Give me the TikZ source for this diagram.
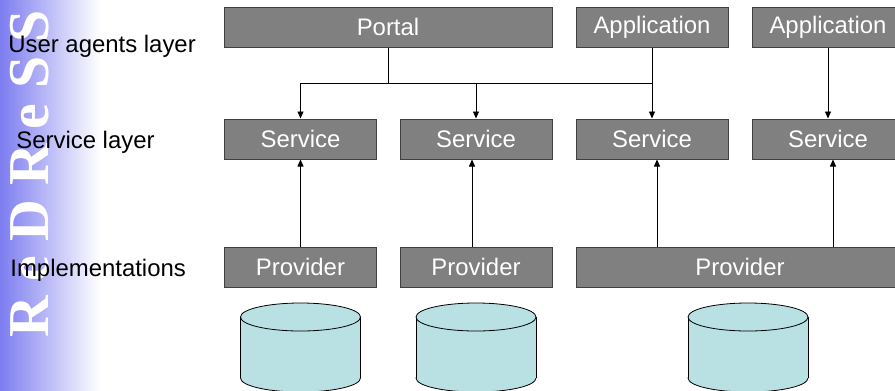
\documentclass[tikz,border=0pt]{standalone}
\usepackage{fontspec}
\setmainfont{Liberation Sans}
\newfontfamily\logofont{Liberation Serif}
\usetikzlibrary{arrows.meta}
\definecolor{logoblue}{RGB}{125,125,240}
\definecolor{boxgray}{RGB}{128,128,128}
\definecolor{storecyan}{RGB}{185,224,227}
% data store drawn as a cylinder, #1 = centre x
\newcommand{\datastore}[1]{%
	\filldraw[store] (#1,378) ellipse [x radius=60, y radius=14];
	\fill[storecyan] (#1-60,317) rectangle (#1+60,378);
	\draw[store] (#1-60,317) -- (#1-60,378) (#1+60,317) -- (#1+60,378);
	\filldraw[store] (#1,317) ellipse [x radius=60, y radius=14];
}

\begin{document}
\begin{tikzpicture}[x=1bp,y=-1bp,line width=0.8bp,>={Triangle[length=7bp,width=6bp]}]
	\tikzstyle{layer box}=[rectangle, fill=boxgray, draw=black!75, line width=1bp, text=white, minimum height=40bp, minimum width=152bp, inner sep=0pt, font=\fontsize{24}{28}\selectfont]
	\tikzstyle{wide box}=[layer box, minimum width=328bp]
	\tikzstyle{store}=[draw=black, fill=storecyan, line width=0.8bp]
	\tikzstyle{layer label}=[anchor=base west, inner sep=0pt, font=\fontsize{24}{28}\selectfont]

	\useasboundingbox (0,0) rectangle (895,390);
	\shade[left color=logoblue, right color=white] (0,0) rectangle (100,390);
	\node[rotate=90, anchor=base west, inner sep=0pt, text=white, font=\fontsize{58}{60}\selectfont\logofont\bfseries] (logo) at (48,338) {R e D R e S S};

	\node[layer label] (lbl-ua) at (8,52) {User agents layer};
	\node[layer label] (lbl-svc) at (16,148) {Service layer};
	\node[layer label] (lbl-impl) at (10,276) {Implementations};

	% user agents
	\node[wide box] (portal) at (388,27) {Portal};
	\node[layer box] (app-1) at (652,27) {Application};
	\node[layer box] (app-2) at (828,27) {Application};

	% services
	\node[layer box] (svc-1) at (300.5,139) {Service};
	\node[layer box] (svc-2) at (476,139) {Service};
	\node[layer box] (svc-3) at (652,139) {Service};
	\node[layer box] (svc-4) at (828,139) {Service};

	% providers and their stores
	\node[layer box] (prov-1) at (300.5,267) {Provider};
	\node[layer box] (prov-2) at (476,267) {Provider};
	\node[wide box] (prov-3) at (740,267) {Provider};

	\datastore{300.5}
	\datastore{476}
	\datastore{748}

	\coordinate (bus) at (388,83);
	\draw (portal.south) -- (bus);
	\draw (bus) -- (bus -| app-1.south);
	\draw[->] (bus) -| (svc-1.north);
	\draw[->] (bus) -| (svc-2.north);
	\draw[->] (app-1.south) -- (svc-3.north);
	\draw[->] (app-2.south) -- (svc-4.north);

	\coordinate (up-2) at ([xshift=-4bp]svc-2.south);
	\coordinate (up-3) at ([xshift=5bp]svc-3.south);
	\coordinate (up-4) at ([xshift=5bp]svc-4.south);
	\draw[->] (prov-1.north) -- (svc-1.south);
	\draw[->] (up-2 |- prov-2.north) -- (up-2);
	\draw[->] (up-3 |- prov-3.north) -- (up-3);
	\draw[->] (up-4 |- prov-3.north) -- (up-4);
\end{tikzpicture}
\end{document}
